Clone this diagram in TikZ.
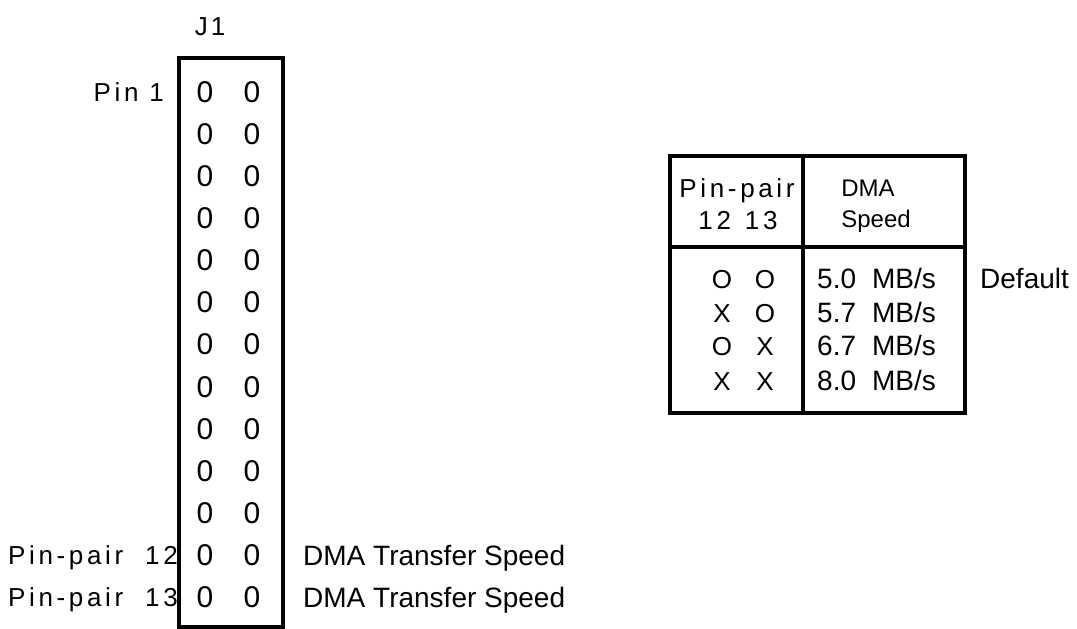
\documentclass[tikz,border=0pt]{standalone}
\usepackage{fontspec}
\setmainfont{Liberation Sans}
\newfontfamily\spacedfont[LetterSpace=14]{Liberation Sans}

\tikzset{
  lbl/.style={inner sep=0pt, font=\fontsize{28}{32}\selectfont},
  pinlbl/.style={inner sep=0pt, font=\spacedfont\fontsize{26}{30}\selectfont},
  hdr/.style={inner sep=0pt, font=\fontsize{24}{26}\selectfont},
  pinmark/.style={inner sep=0pt, font=\fontsize{30}{32}\selectfont},
  frame/.style={line width=3.5pt}
}

\begin{document}
\begin{tikzpicture}[x=1pt,y=-1pt]
\useasboundingbox (0,0) rectangle (1077,629);
% header J1
	\node[pinlbl, anchor=base] (jone) at (210,35) {J\hspace{3pt}1};
	\draw[frame] (179,58) rectangle (283,627);
	\foreach \r in {1,...,13} {
		\node[pinmark] (pa\r) at (205,{92+42.1*(\r-1)}) {0};
		\node[pinmark] (pb\r) at (252,{92+42.1*(\r-1)}) {0};
	}
	\node[pinlbl, anchor=base east] (pinone) at (164,101) {Pin 1};
	\node[pinlbl, anchor=base west] (pptwelve) at (8,564) {Pin-pair};
	\node[pinlbl, anchor=base east] (ntwelve) at (178,564) {12};
	\node[pinlbl, anchor=base west] (ppthirteen) at (8,606) {Pin-pair};
	\node[pinlbl, anchor=base east] (nthirteen) at (178,606) {13};
	\node[lbl, anchor=base west] (dmatwelve) at (303,565) {DMA Transfer Speed};
	\node[lbl, anchor=base west] (dmathirteen) at (303,607) {DMA Transfer Speed};
% speed table
	\draw[frame] (670,156) rectangle (965,413);
	\draw[frame] (803,156) -- (803,413);
	\draw[frame] (670,247) -- (965,247);
	\node[pinlbl, anchor=base] (thpin) at (737,197) {Pin-pair};
	\node[pinlbl, anchor=base] (thnum) at (738,229) {12\hspace{14pt}13};
	\node[hdr, anchor=base] (thdma) at (868,196) {DMA};
	\node[hdr, anchor=base] (thspeed) at (876,227) {Speed};
	\node[pinlbl, anchor=base] (oa) at (722,288) {O};
	\node[pinlbl, anchor=base] (ob) at (765,288) {O};
	\node[pinlbl, anchor=base] (xa) at (722,322) {X};
	\node[pinlbl, anchor=base] (xb) at (765,322) {O};
	\node[pinlbl, anchor=base] (ya) at (722,355) {O};
	\node[pinlbl, anchor=base] (yb) at (765,355) {X};
	\node[pinlbl, anchor=base] (za) at (722,390) {X};
	\node[pinlbl, anchor=base] (zb) at (765,390) {X};
	\node[lbl, anchor=base west] (sfive) at (817,288) {5.0\hspace{16pt}MB/s};
	\node[lbl, anchor=base west] (sfivesev) at (817,322) {5.7\hspace{16pt}MB/s};
	\node[lbl, anchor=base west] (ssix) at (817,355) {6.7\hspace{16pt}MB/s};
	\node[lbl, anchor=base west] (seight) at (817,390) {8.0\hspace{16pt}MB/s};
	\node[lbl, anchor=base west] (deflt) at (980,288) {Default};
\end{tikzpicture}
\end{document}
